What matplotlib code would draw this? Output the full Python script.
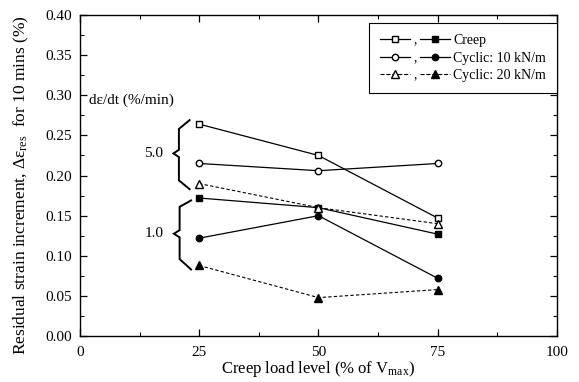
import matplotlib
matplotlib.use("Agg")
import matplotlib.pyplot as plt
from matplotlib.lines import Line2D
from matplotlib.text import Text
from matplotlib.legend_handler import HandlerBase
from matplotlib.ticker import MultipleLocator

plt.rcParams['font.family'] = ['Liberation Serif', 'DejaVu Serif']
plt.rcParams['mathtext.fontset'] = 'custom'
plt.rcParams['mathtext.rm'] = 'Liberation Serif'
plt.rcParams['mathtext.it'] = 'Liberation Serif:italic'

load = [25, 50, 75]
# dε/dt = 5.0 %/min (open markers)
creep_5 = [0.264, 0.225, 0.147]
cyc10_5 = [0.215, 0.206, 0.215]
cyc20_5 = [0.190, 0.160, 0.140]
# dε/dt = 1.0 %/min (filled markers)
creep_1 = [0.172, 0.160, 0.127]
cyc10_1 = [0.122, 0.150, 0.072]
cyc20_1 = [0.088, 0.048, 0.058]

labels = ["Creep", "Cyclic: 10 kN/m", "Cyclic: 20 kN/m"]

fig = plt.figure(figsize=(5.79, 3.82), dpi=100)
ax = fig.add_axes([0.138, 0.120, 0.824, 0.841])

dash = (0, (3, 2))
ms = 4.6
h_c5, = ax.plot(load, creep_5, '-', color='k', lw=0.9, marker='s', mfc='white', mec='k', ms=ms)
h_c1, = ax.plot(load, creep_1, '-', color='k', lw=0.9, marker='s', mfc='k', mec='k', ms=ms)
h_a5, = ax.plot(load, cyc10_5, '-', color='k', lw=0.9, marker='o', mfc='white', mec='k', ms=ms)
h_a1, = ax.plot(load, cyc10_1, '-', color='k', lw=0.9, marker='o', mfc='k', mec='k', ms=ms)
h_b5, = ax.plot(load, cyc20_5, linestyle=dash, color='k', lw=0.8, marker='^', mfc='white', mec='k', ms=ms + 0.6)
h_b1, = ax.plot(load, cyc20_1, linestyle=dash, color='k', lw=0.8, marker='^', mfc='k', mec='k', ms=ms + 0.6)

# braces
def brace(x_end, x_mid, x_tip, y_top, y_t2, y_m1, y_tip, y_m2, y_b2, y_bot):
    ax.plot([x_end, x_mid, x_mid, x_tip, x_mid, x_mid, x_end],
            [y_top, y_t2, y_m1, y_tip, y_m2, y_b2, y_bot],
            color='k', lw=1.4, solid_joinstyle='miter', clip_on=False)

brace(23.0, 20.75, 19.6, 0.269, 0.258, 0.232, 0.2275, 0.223, 0.194, 0.183)
brace(23.3, 20.9, 19.7, 0.169, 0.161, 0.132, 0.1275, 0.123, 0.096, 0.083)
ax.text(15.5, 0.2275, "5.0", ha='center', va='center', fontsize=11)
ax.text(15.5, 0.1275, "1.0", ha='center', va='center', fontsize=11)
ax.text(2.0, 0.294, "dε/dt (%/min)", ha='left', va='center', fontsize=11)

ax.set_xlim(0, 100)
ax.set_ylim(0, 0.40)
ax.xaxis.set_major_locator(MultipleLocator(25))
ax.xaxis.set_minor_locator(MultipleLocator(12.5))
ax.yaxis.set_major_locator(MultipleLocator(0.05))
ax.yaxis.set_minor_locator(MultipleLocator(0.025))
ax.yaxis.set_major_formatter(plt.FuncFormatter(lambda v, p: f"{v:.2f}"))
ax.tick_params(which='both', direction='in', top=True, right=True, labelsize=11)
ax.tick_params(which='major', length=5, width=0.9)
ax.tick_params(which='minor', length=3, width=0.8)
ax.tick_params(axis='x', which='major', pad=7)
ax.tick_params(axis='y', which='major', pad=5.5)
for s in ax.spines.values():
    s.set_linewidth(1.0)

ax.set_xlabel("Creep load level (% of V$_{\\rm max}$)", fontsize=12, labelpad=0)
ax.set_ylabel("Residual strain increment, Δε$_{\\rm res}$  for 10 mins (%)", fontsize=12.5)
ax.yaxis.set_label_coords(-0.102, 0.47)


class PairHandler(HandlerBase):
    def create_artists(self, legend, orig_handle, xdescent, ydescent, width,
                       height, fontsize, trans):
        arts = []
        seg = width * 0.43
        yc = height / 2 - ydescent
        for i, h in enumerate(orig_handle):
            x0 = -xdescent + i * (width - seg)
            l = Line2D([x0, x0 + seg], [yc, yc], linestyle=h.get_linestyle(),
                       color='k', lw=h.get_linewidth())
            m = Line2D([x0 + seg / 2], [yc], linestyle='', marker=h.get_marker(),
                       mfc=h.get_markerfacecolor(), mec='k', ms=h.get_markersize())
            l.set_transform(trans)
            m.set_transform(trans)
            arts += [l, m]
        t = Text(-xdescent + width / 2, yc - fontsize * 0.3, ",", ha='center',
                 va='baseline', fontsize=fontsize, family='Liberation Serif')
        t.set_transform(trans)
        arts.append(t)
        return arts


leg = ax.legend([(h_c5, h_c1), (h_a5, h_a1), (h_b5, h_b1)], labels,
                handler_map={tuple: PairHandler()}, loc='upper right',
                bbox_to_anchor=(1.0, 0.975), borderaxespad=0, fontsize=10,
                handlelength=5.0, handletextpad=0.25, borderpad=0.8,
                labelspacing=0.33, fancybox=False, edgecolor='k', framealpha=1)
leg.get_frame().set_linewidth(0.8)

fig.savefig("out.png", dpi=100)
